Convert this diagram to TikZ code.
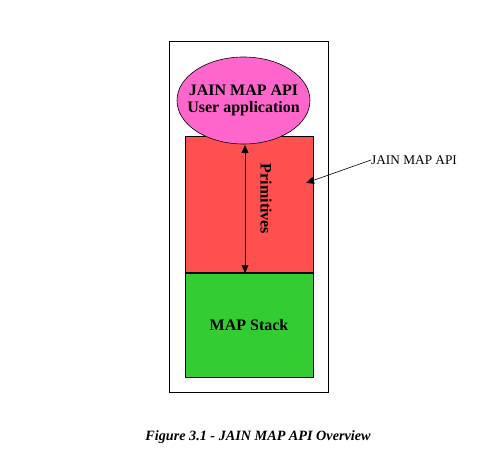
\documentclass[tikz,border=0pt]{standalone}
\usepackage{fontspec}
\setmainfont{Liberation Serif}
\usetikzlibrary{arrows.meta,shapes.geometric}
\definecolor{appcol}{HTML}{FF66CC}
\definecolor{primcol}{HTML}{FF5050}
\definecolor{stackcol}{HTML}{33CC33}
\tikzstyle{layerbox}=[rectangle,draw=black,line width=1pt,
                      inner sep=0pt,outer sep=0pt,minimum width=128pt]
\tikzstyle{appnode}=[ellipse,draw=black,fill=appcol,line width=0.6pt,
                     inner sep=0pt,minimum width=133pt,minimum height=87pt]
\tikzstyle{boldtext}=[inner sep=0pt,font=\fontsize{16}{18}\selectfont\bfseries]
\tikzstyle{tip}=[-{Triangle[length=8pt,width=7pt]}]
\tikzstyle{bothtip}=[{Triangle[length=8pt,width=7pt]}-{Triangle[length=8pt,width=7pt]}]
\begin{document}
\begin{tikzpicture}[x=1pt,y=-1pt]
    \useasboundingbox[fill=white] (0,0) rectangle (500,465);
    \node (frame) at (248.5,217) [rectangle,draw=black,line width=1pt,
        minimum width=159pt,minimum height=350pt,outer sep=0pt]{};
    \node (prim) at (249,205) [layerbox,fill=primcol,minimum height=136pt]{};
    \node (stack) at (249,325) [layerbox,fill=stackcol,minimum height=104pt]{};
    \node (stacktxt) at (stack.center) [boldtext]{MAP Stack};
    \draw[line width=2pt] (stack.north west) -- (stack.north east);
    \node (app) at (243.5,100.5) [appnode]{};
    \node (apptxt) at (app.center) [boldtext,align=center]
        {JAIN MAP API\\[-1pt]User application};
    \coordinate (ptop) at (245,145);
    \coordinate (pbot) at (245,273);
    \draw[bothtip,line width=0.6pt] (ptop) -- (pbot);
    \node (primlbl) at (266,199) [boldtext,rotate=-90]{Primitives};
    \node (apilbl) at (371,160) [anchor=west,inner sep=0pt,
        font=\fontsize{13.3}{15}\selectfont]{JAIN MAP API};
    \coordinate (apitip) at (306,183);
    \draw[tip,line width=0.6pt] (apilbl.west) -- (apitip);
    \node (caption) at (258,437) [inner sep=0pt,
        font=\fontsize{14.2}{16}\selectfont\bfseries\itshape]
        {Figure 3.1 - JAIN MAP API Overview};
\end{tikzpicture}
\end{document}
